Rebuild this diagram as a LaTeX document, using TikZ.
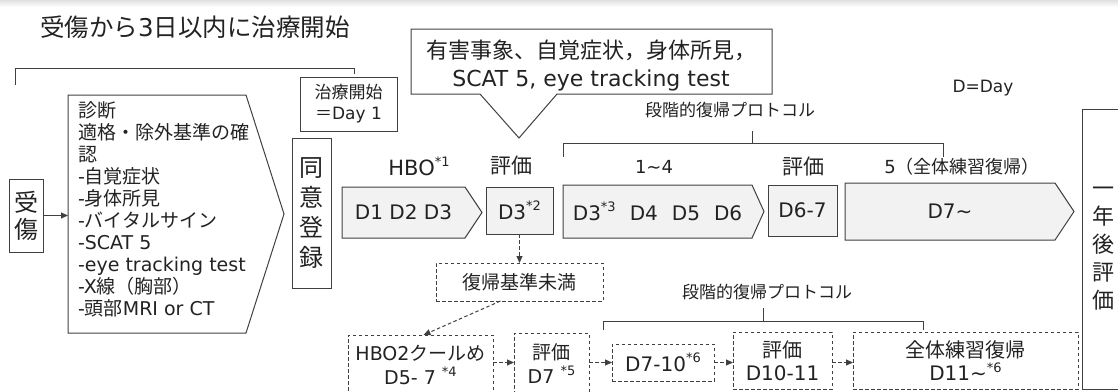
\documentclass[tikz,border=0pt]{standalone}
\usepackage{fontspec}
\setmainfont{DejaVu Sans}
\newfontfamily\jpf{Noto Sans CJK JP}
\newcommand\J[1]{{\jpf #1}}
\newcommand\fs[2]{\fontsize{#1}{#2}\selectfont}
\newcommand\sx[1]{\raisebox{0.42em}{\fontsize{13}{13}\selectfont #1}}
\usetikzlibrary{arrows.meta,backgrounds}
\definecolor{lc}{HTML}{404040}
\definecolor{tc}{HTML}{222222}
\definecolor{fc}{HTML}{F2F2F2}
\begin{document}
\begin{tikzpicture}[x=1pt,y=-1pt,
  every node/.append style={text=tc, inner sep=0pt, outer sep=0pt},
  ln/.style={draw=lc, line width=1pt},
  box/.style={ln, anchor=north west, align=center},
  gbox/.style={box, fill=fc},
  dsh/.style={dash pattern=on 3.5pt off 2.5pt},
  dbox/.style={box, dsh},
  hid/.style={anchor=north west, align=center},
  arr/.style={ln, -{Triangle[length=7pt,width=6pt]}},
  darr/.style={arr, dsh},
  pent/.style={ln, fill=fc, line join=miter},
]
\useasboundingbox (0,0) rectangle (1118,391);
\clip (0,0) rectangle (1118,391);
\shade[top color=black!12, bottom color=white] (0,0) rectangle (1118,7);

% title and top bracket
\node[font=\fs{24.5}{30}] (title) at (195,27) {\J{受傷から}3\J{日以内に治療開始}};
\draw[ln] (15,85) -- (15,68) -- (354,68) -- (354,74);

% injury
\node[box, minimum width=34pt, minimum height=73pt, font=\fs{24}{27}] (shou) at (9,179) {\J{受}\\\J{傷}};

% diagnosis pentagon
\node[hid, minimum width=178pt, minimum height=238pt] (diag) at (68,95) {};
\draw[ln, line join=miter] (diag.north west) -- (diag.north east) -- ([xshift=38pt]diag.east) -- (diag.south east) -- (diag.south west) -- cycle;
\node[anchor=north west, align=left, font=\fs{19}{22}] (diagtxt) at (78,102) {\J{診断}\\
\J{適格・除外基準の確}\\
\J{認}\\
-\J{自覚症状}\\
-\J{身体所見}\\
-\J{バイタルサイン}\\
-SCAT 5\\
-eye tracking test\\
-X\J{線（胸部）}\\
-\J{頭部}MRI or CT};
\draw[arr] (shou.east) -- (shou.east -| diag.west);

% start box
\node[box, minimum width=97pt, minimum height=54pt, font=\fs{17}{21}] (start) at (300,77) {\J{治療開始}\\\J{＝}Day 1};

% consent
\node[box, minimum width=39pt, minimum height=150pt, font=\fs{24}{30}] (doui) at (292,138) {\J{同}\\\J{意}\\\J{登}\\\J{録}};

% callout
\node[hid, minimum width=361pt, minimum height=65pt] (call) at (411,29) {};
\coordinate (tip) at (519,138);
\draw[ln, line join=miter] (call.south west) -- (call.north west) -- (call.north east) -- (call.south east) -- ([xshift=-215pt]call.south east) -- (tip) -- ([xshift=69pt]call.south west) -- cycle;
\node[font=\fs{22}{28}, align=center] (calltxt) at (591,66) {\J{有害事象、自覚症状，身体所見，}\\SCAT 5, eye tracking test};

\node[font=\fs{17}{20}] (dday) at (983,88) {D=Day};

% upper protocol bracket
\node[font=\fs{17}{20}] (prot1) at (730,110) {\J{段階的復帰プロトコル}};
\draw[ln] (563,157) -- (563,143) -- (943,143) -- (943,157);
\draw[ln] (752,143) -- (752,131);

% labels
\node[font=\fs{21}{24}] (lhbo) at (419,166) {HBO\sx{*1}};
\node[font=\fs{21}{24}] (lhy1) at (511,166) {\J{評価}};
\node[font=\fs{18}{22}] (l14) at (654,167) {1\textasciitilde 4};
\node[font=\fs{21}{24}] (lhy2) at (803,167) {\J{評価}};
\node[font=\fs{18}{22}] (l5) at (962,167) {5\J{（全体練習復帰）}};

% main row
\node[hid, minimum width=123pt, minimum height=51pt, font=\fs{20}{24}] (hbo) at (342,187) {D1 D2 D3};
\node[gbox, minimum width=67pt, minimum height=47pt, font=\fs{20}{24}] (hy1) at (486,187) {D3\sx{*2}};
\node[hid, minimum width=189pt, minimum height=53pt, font=\fs{20}{24}] (p14) at (563,185) {D3\sx{*3}\hspace{14pt}D4\hspace{14pt}D5\hspace{14pt}D6};
\node[gbox, minimum width=69pt, minimum height=51pt, font=\fs{20}{24}] (hy2) at (768,185) {D6-7};
\node[hid, minimum width=210pt, minimum height=57pt, font=\fs{20}{24}] (p5) at (845,183) {D7\textasciitilde};
\begin{scope}[on background layer]
\draw[pent] (hbo.north west) -- (hbo.north east) -- ([xshift=17pt]hbo.east) -- (hbo.south east) -- (hbo.south west) -- cycle;
\draw[pent] (p14.north west) -- (p14.north east) -- ([xshift=12pt]p14.east) -- (p14.south east) -- (p14.south west) -- cycle;
\draw[pent] (p5.north west) -- (p5.north east) -- ([xshift=19pt]p5.east) -- (p5.south east) -- (p5.south west) -- cycle;
\end{scope}

% one-year evaluation
\node[box, minimum width=60pt, minimum height=280pt] (ichi) at (1082,109) {};
\node[font=\fs{22}{28}, align=center] (ichitxt) at (1103,249) {\J{一}\\\J{年}\\\J{後}\\\J{評}\\\J{価}};

% lower path
\node[dbox, minimum width=167pt, minimum height=38pt, font=\fs{19}{22}] (fukki) at (436,263) {\J{復帰基準未満}};
\draw[darr] (hy1.south) -- (fukki.north);
\node[dbox, minimum width=145pt, minimum height=60pt, font=\fs{19}{24}] (hbo2) at (348,335) {HBO2\J{クールめ}\\D5- 7 \sx{*4}};
\draw[darr] ([xshift=-19pt]fukki.south) -- ([xshift=3pt]hbo2.north);
\node[dbox, minimum width=75pt, minimum height=62pt, font=\fs{19}{24}] (hy3) at (514,333) {\J{評価}\\D7 \sx{*5}};
\node[dbox, minimum width=102pt, minimum height=37pt, font=\fs{20}{22}] (d710) at (612,344) {D7-10\sx{*6}};
\node[dbox, minimum width=99pt, minimum height=57pt, font=\fs{20}{23}] (hy4) at (733,332) {\J{評価}\\D10-11};
\node[dbox, minimum width=225pt, minimum height=57pt, font=\fs{20}{23}] (zen) at (853,332) {\J{全体練習復帰}\\D11\textasciitilde\sx{*6}};
\draw[darr] (hbo2.east |- d710.west) -- (hy3.west |- d710.west);
\draw[darr] (hy3.east |- d710.west) -- (d710.west);
\draw[darr] (d710.east) -- (hy4.west |- d710.east);
\draw[darr] (hy4.east |- d710.east) -- (zen.west |- d710.east);

% lower protocol bracket
\node[font=\fs{17}{20}] (prot2) at (767,292) {\J{段階的復帰プロトコル}};
\draw[ln] (603,330) -- (603,321) -- (923,321) -- (923,330);
\draw[ln] (763,321) -- (763,308);
\end{tikzpicture}
\end{document}
